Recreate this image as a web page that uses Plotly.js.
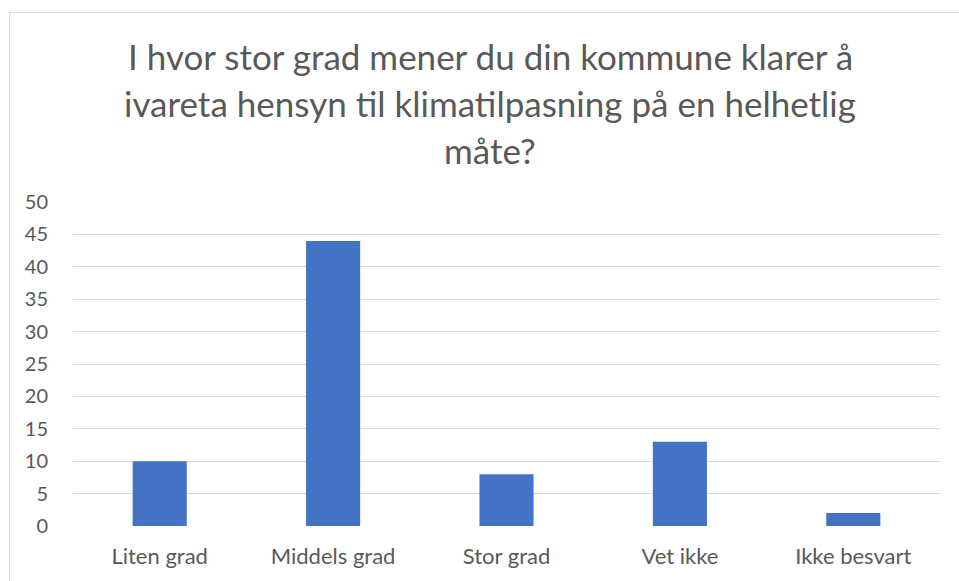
<!DOCTYPE html>
<html>
<head>
<meta charset="utf-8">
<script src="https://cdn.plot.ly/plotly-3.0.1.min.js"></script>
<style>
  html, body { margin: 0; padding: 0; background: #ffffff; }
  #wrap { position: relative; width: 959px; height: 581px; overflow: hidden; }
  #frame { position: absolute; left: 9px; top: 12px; width: 980px; height: 600px;
           border: 1px solid #d9d9d9; box-sizing: border-box; pointer-events: none; }
  #chart { position: absolute; left: 0; top: 0; width: 959px; height: 581px; }
</style>
</head>
<body>
<div id="wrap">
  <div id="frame"></div>
  <div id="chart"></div>
</div>
<script>
const categories = ["Liten grad", "Middels grad", "Stor grad", "Vet ikke", "Ikke besvart"];
const values = [10, 44, 8, 13, 2];
const titleLines = [
  "I hvor stor grad mener du din kommune klarer å",
  "ivareta hensyn til klimatilpasning på en helhetlig",
  "måte?"
];
const yTicks = [0, 5, 10, 15, 20, 25, 30, 35, 40, 45, 50];

const FONT = "Lato, 'Open Sans', sans-serif";
const TXT = "#595959";

const plotTop = 202, plotBottom = 526;
const plotH = plotBottom - plotTop;
const lineCentersPx = [56, 103, 150];

const annotations = titleLines.map((t, i) => ({
  text: t,
  xref: "paper", yref: "paper",
  x: 0.4815,
  y: (plotBottom - lineCentersPx[i]) / plotH,
  xanchor: "center", yanchor: "middle",
  showarrow: false,
  font: { family: FONT, size: 35, color: TXT }
}));

const trace = {
  type: "bar",
  x: categories,
  y: values,
  marker: { color: "#4472c4" },
  hoverinfo: "x+y"
};

const layout = {
  width: 959, height: 581,
  margin: { l: 73, r: 19, t: plotTop, b: 581 - plotBottom },
  paper_bgcolor: "rgba(0,0,0,0)",
  plot_bgcolor: "rgba(0,0,0,0)",
  bargap: 0.688,
  showlegend: false,
  annotations: annotations,
  xaxis: {
    type: "category",
    showgrid: false,
    showline: false,
    zeroline: false,
    ticks: "outside", ticklen: 11, tickcolor: "rgba(0,0,0,0)",
    tickfont: { family: FONT, size: 22, color: TXT }
  },
  yaxis: {
    range: [0, 50],
    tickvals: yTicks,
    ticktext: yTicks.map(String),
    showgrid: true,
    gridcolor: "#d9d9d9",
    gridwidth: 1,
    zeroline: false,
    showline: false,
    ticks: "outside", ticklen: 20, tickcolor: "rgba(0,0,0,0)",
    tickfont: { family: FONT, size: 20, color: TXT }
  }
};

Plotly.newPlot("chart", [trace], layout, { displayModeBar: false, staticPlot: true });
</script>
</body>
</html>
